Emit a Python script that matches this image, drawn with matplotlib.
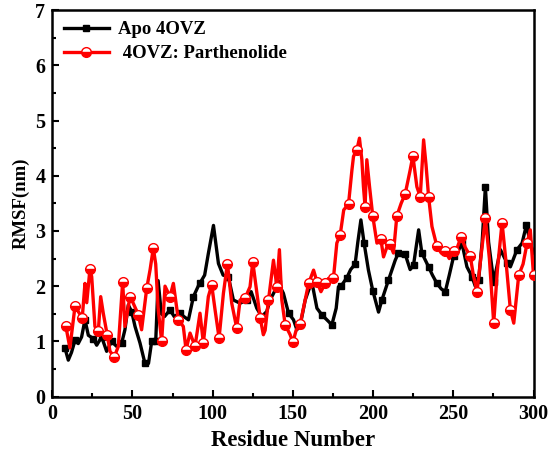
import matplotlib
matplotlib.use("Agg")
import matplotlib.pyplot as plt
from matplotlib.ticker import MultipleLocator

plt.rcParams['font.family'] = ['Liberation Serif', 'DejaVu Serif']
plt.rcParams['font.weight'] = 'bold'

# Apo 4OVZ (residue, RMSF)
apo_res = [7.9, 10, 12, 14.2, 16.2, 18.3, 20.4, 22.5, 25.6, 27.7, 30.8, 33.9, 37, 40.1, 43.3,
           45.3, 47.4, 49.5, 51.6, 54.7, 57.8, 60, 62, 64.5, 66, 68, 70, 73.4, 76, 79.6, 82,
           84.9, 88, 91, 92, 95, 97.3, 100.5, 103.6, 106.5, 109.8, 112.9, 117.1, 121.3, 124,
           127.5, 130.6, 133.7, 135.8, 138.5, 141, 144.1, 147.3, 150.4, 152.5, 154.6, 157.7,
           159.5, 161.8, 165, 168.1, 171.2, 174.3, 177, 178.4, 180, 183.6, 186, 188.8, 190.5,
           192.4, 194.4, 197.1, 199.8, 203.4, 205.5, 209.6, 213.8, 215.8, 218, 220, 223.1,
           225.2, 228.4, 230.4, 234.6, 237, 239.8, 242.5, 245, 247.5, 250.2, 252.5, 255.4,
           258.5, 261.7, 263.7, 265.8, 268, 270, 272, 275.2, 279.4, 283.5, 285.6, 289.7,
           292.9, 295.6, 298, 300]
apo_rmsf = [0.88, 0.66, 0.8, 1.02, 0.96, 1.08, 1.39, 1.11, 1.05, 0.93, 1.08, 0.82, 1.0, 0.91, 0.97,
            1.21, 1.66, 1.54, 1.27, 0.97, 0.6, 0.6, 1.0, 1.0, 2.1, 1.5, 1.45, 1.57, 1.45, 1.51, 1.45,
            1.39, 1.81, 2.0, 2.05, 2.2, 2.59, 3.1, 2.41, 2.2, 2.17, 1.75, 1.69, 1.75, 1.9,
            1.6, 1.45, 1.54, 1.75, 1.9, 2.05, 1.87, 1.51, 1.39, 1.21, 1.3, 1.75,
            1.9, 2.08, 1.6, 1.48, 1.39, 1.3, 1.6, 1.99, 2.0, 2.15, 2.3, 2.4, 2.8,
            3.2, 2.78, 2.29, 1.92, 1.53, 1.75, 2.11, 2.47, 2.6, 2.55, 2.58, 2.3,
            2.38, 3.02, 2.6, 2.35, 2.2, 2.05, 1.95, 1.9, 2.2, 2.54, 2.6, 2.78,
            2.35, 2.17, 2.0, 2.11, 2.8, 3.8, 2.8, 2.08, 2.66, 2.42, 2.35, 2.66,
            2.78, 3.11, 2.78, 2.6]
apo_marks = [7.9, 14.2, 20.4, 25.6, 30.8, 37, 43.3, 49.5, 57.8, 62, 64.5, 73.4, 79.6, 88, 92,
             109.8, 121.3, 141, 147.3, 154.6, 161.8, 168.1, 174.3, 180, 183.6, 188.8, 194.4,
             199.8, 205.5, 209.6, 215.8, 220, 225.2, 230.4, 234.6, 239.8, 245, 250.2, 255.4,
             261.7, 265.8, 270, 275.2, 283.5, 289.7, 295.6]

# 4OVZ: Parthenolide (residue, RMSF)
par_res = [8.5, 11, 14.2, 16.2, 18.7, 20.4, 21.5, 23.5, 24.6, 26.6, 28.7, 30.2, 31.8, 34.3, 36,
           38.7, 41.2, 43.9, 45.3, 48.5, 50.5, 53.7, 55.7, 58.9, 61, 63, 64.5, 66, 68.2, 70.3,
           73.4, 75.5, 78.6, 81.7, 83.4, 85.9, 89, 92.1, 94.2, 97.3, 99.4, 101.5, 104, 106.7,
           109.2, 111.9, 115, 117.1, 120.2, 123.3, 125, 127, 129.6, 131.6, 132.7, 134.8, 137.9,
           140, 141.6, 143.1, 145.2, 148.3, 150, 152, 154.6, 157.7, 159.8, 162.9, 165, 167.5,
           170.1, 172.2, 175.3, 177.4, 179.5, 181.7, 184.7, 186.8, 187.8, 189.9, 191.5, 193,
           194, 195, 196.1, 197.8, 199.8, 202.4, 204.8, 206.5, 208.5, 210.5, 212.7, 214.8,
           217.5, 220, 223.1, 224.8, 227.3, 229.4, 231.5, 233, 234.6, 236.7, 239.8, 242.5,
           245, 247.5, 250.2, 252.5, 254.8, 257.5, 260.6, 262.5, 264.8, 267.5, 270, 272.5,
           275.2, 277.5, 280.4, 283, 285.6, 287.7, 290.8, 293.5, 296, 298, 300]
par_rmsf = [1.27, 0.88, 1.64, 1.54, 1.43, 2.05, 1.7, 2.31, 2.17, 1.27, 1.18, 1.81, 1.51, 1.11, 0.82,
            0.72, 0.91, 2.08, 1.27, 1.81, 1.69, 1.48, 1.21, 1.96, 2.3, 2.69, 2.4, 1.6, 1.0, 2.0,
            1.81, 2.05, 1.39, 1.27, 0.85, 1.15, 0.91, 1.51, 0.97, 1.81, 2.02, 1.57, 1.06, 1.87,
            2.41, 1.69, 1.24, 1.75, 1.78, 1.99, 2.44, 2.0, 1.43, 1.12, 1.2, 1.75, 2.47,
            1.99, 2.66, 1.75, 1.3, 1.12, 0.98, 1.2, 1.32, 1.75, 2.05, 2.29, 2.08, 1.9,
            2.05, 2.14, 2.15, 2.78, 2.93, 3.38, 3.49, 4.1, 4.35, 4.47, 4.68, 4.29,
            3.8, 3.44, 4.29, 3.8, 3.27, 2.78, 2.86, 2.53, 2.7, 2.76, 2.6, 3.27,
            3.5, 3.67, 4.1, 4.36, 3.8, 3.62, 4.65, 4.2, 3.62, 3.08, 2.72, 2.6,
            2.63, 2.5, 2.63, 2.7, 2.89, 2.7, 2.54, 2.2, 1.9, 2.6, 3.23, 2.5,
            1.33, 2.3, 3.15, 2.4, 1.57, 1.33, 2.2, 2.4, 2.78, 3.02, 2.2]
par_marks = [8.5, 14.2, 18.7, 23.5, 28.7, 34.3, 38.7, 43.9, 48.5, 53.7, 58.9, 63, 68.2, 73.4,
             78.6, 83.4, 89, 94.2, 99.4, 104, 109.2, 115, 120.2, 125, 129.6, 134.8, 140, 145.2,
             150, 154.6, 159.8, 165, 170.1, 175.3, 179.5, 184.7, 189.9, 195, 199.8, 204.8,
             210.5, 214.8, 220, 224.8, 229.4, 234.6, 239.8, 245, 250.2, 254.8, 260.6, 264.8,
             270, 275.2, 280.4, 285.6, 290.8, 296, 300]

xticks = [0, 50, 100, 150, 200, 250, 300]
yticks = [0, 1, 2, 3, 4, 5, 6, 7]

fig = plt.figure(figsize=(5.5, 4.59), dpi=100)
ax = fig.add_axes([0.095, 0.136, 0.875, 0.842])

apo_idx = [apo_res.index(v) for v in apo_marks]
par_idx = [par_res.index(v) for v in par_marks]

ax.plot(apo_res, apo_rmsf, color='black', lw=2.4, marker='s', markersize=5,
        markevery=apo_idx, label='Apo 4OVZ', zorder=2)
ax.plot(par_res, par_rmsf, color='red', lw=2.4, marker='o', markersize=7,
        markevery=par_idx, fillstyle='bottom', markerfacecolor='red',
        markerfacecoloralt='white', markeredgecolor='red', markeredgewidth=1.0,
        label=' 4OVZ: Parthenolide', zorder=3)

ax.set_xlim(0, 300)
ax.set_ylim(0, 7)
ax.set_xticks(xticks)
ax.set_yticks(yticks)
ax.xaxis.set_minor_locator(MultipleLocator(25))
ax.yaxis.set_minor_locator(MultipleLocator(0.5))
ax.tick_params(which='both', direction='in', top=False, right=False, width=1.5, labelsize=14.5)
ax.tick_params(which='major', length=5, pad=5)
ax.tick_params(which='minor', length=3)
for s in ax.spines.values():
    s.set_linewidth(1.8)
for lab in ax.get_xticklabels() + ax.get_yticklabels():
    lab.set_fontweight('bold')

ax.set_xlabel('Residue Number', fontsize=16.5, fontweight='bold', labelpad=5)
ax.set_ylabel('RMSF(nm)', fontsize=13.5, fontweight='bold', labelpad=4)

leg = ax.legend(loc='upper left', frameon=False, prop={'weight': 'bold', 'size': 13.5},
                handlelength=2.4, borderaxespad=0.2, labelspacing=0.35, handletextpad=0.5)

fig.savefig('out.png', dpi=100)
